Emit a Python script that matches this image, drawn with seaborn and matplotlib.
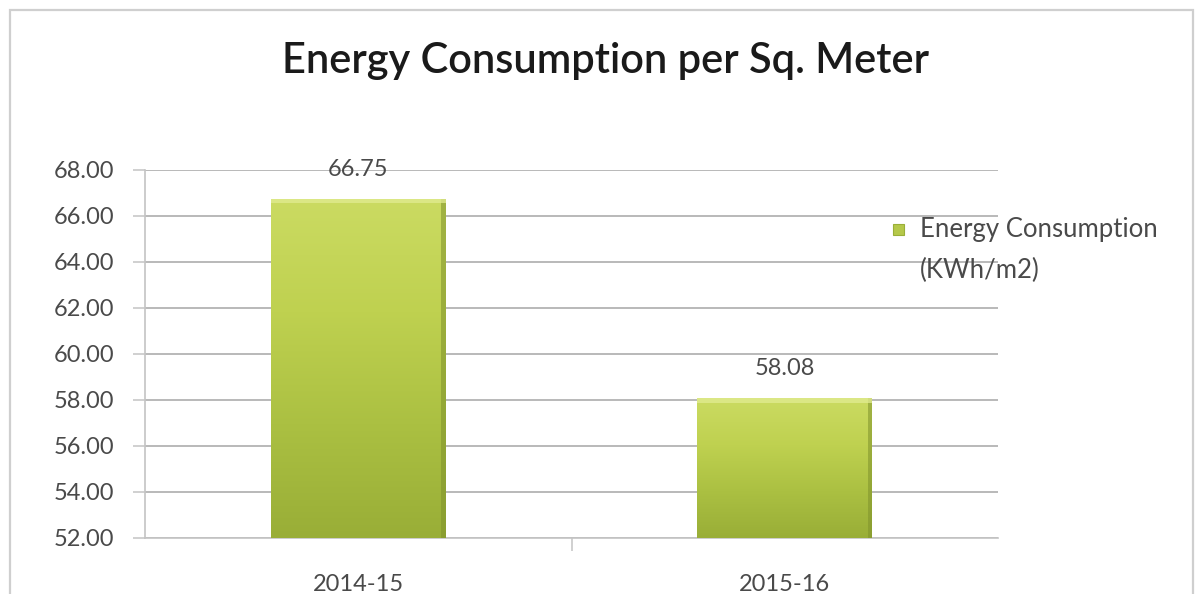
import numpy as np
import pandas as pd
import matplotlib
matplotlib.use("Agg")
import matplotlib.pyplot as plt
from matplotlib.colors import LinearSegmentedColormap
from matplotlib.patches import Rectangle
import seaborn as sns

# Chart data
years = ["2014-15", "2015-16"]
consumption = [66.75, 58.08]
legend_lines = ["Energy Consumption", "(KWh/m2)"]
y_ticks = [52, 54, 56, 58, 60, 62, 64, 66, 68]

df = pd.DataFrame({"Year": years, "Consumption": consumption})

sns.set_theme(style="white")
plt.rcParams["font.family"] = ["Lato", "DejaVu Sans"]

TEXT = "#4a4a4a"
W, H = 1198, 594
fig = plt.figure(figsize=(W / 100, H / 100), dpi=100)
fig.patch.set_facecolor("white")

# outer chart frame
fig.add_artist(Rectangle((10 / W, -0.05), (1193 - 10) / W, 1.05 - 10 / H,
                         transform=fig.transFigure, fill=False,
                         edgecolor="#cfcfcf", linewidth=1.6))

ax = fig.add_axes([145 / W, 1 - 538 / H, (998 - 145) / W, (538 - 170) / H])

sns.barplot(data=df, x="Year", y="Consumption", ax=ax, width=0.41,
            color="#b5c84a", linewidth=0, saturation=1, zorder=3)
ax.set_xlabel("")
ax.set_ylabel("")

# gradient fill for each bar
cmap = LinearSegmentedColormap.from_list(
    "olive", ["#99ae37", "#abc042", "#bfd150", "#cbdb62"])
grad = np.linspace(0, 1, 256).reshape(-1, 1)
y_base = 52
for patch in list(ax.patches):
    x0, w = patch.get_x(), patch.get_width()
    top = patch.get_y() + patch.get_height()
    im = ax.imshow(grad, extent=[x0, x0 + w, y_base, top], origin="lower",
                   cmap=cmap, aspect="auto", zorder=4)
    im.set_clip_path(patch)
    # bevel: darker right edge, lighter top edge
    ax.add_patch(Rectangle((x0 + w * 0.975, y_base), w * 0.025, top - y_base,
                           facecolor="#7f922c", alpha=0.55, linewidth=0, zorder=5))
    ax.add_patch(Rectangle((x0, top - 0.2), w, 0.2,
                           facecolor="#e2ec92", alpha=0.75, linewidth=0, zorder=5))
ax.set_xlim(-0.5, 1.5)
ax.set_ylim(52, 68)
ax.set_yticks(y_ticks)
ax.set_yticklabels([f"{v:.2f}" for v in y_ticks])

# value labels
for i, v in enumerate(consumption):
    ax.text(i, v + 0.82, f"{v:.2f}", ha="center", va="bottom",
            fontsize=17, color=TEXT, zorder=6)

# grid and axes styling
ax.yaxis.grid(True, color="#a6a6a6", linewidth=1.1, zorder=1)
ax.xaxis.grid(False)
for side in ["top", "right"]:
    ax.spines[side].set_visible(False)
for side in ["left", "bottom"]:
    ax.spines[side].set_color("#c4c4c4")
    ax.spines[side].set_linewidth(1.2)

ax.tick_params(axis="y", which="both", left=True, length=9, width=1.1,
               color="#c4c4c4", labelsize=17, labelcolor=TEXT, pad=13)
ax.set_xticks([0.5], minor=True)
ax.tick_params(axis="x", which="major", bottom=False, labelsize=17,
               labelcolor=TEXT, pad=20)
ax.tick_params(axis="x", which="minor", bottom=True, length=9, width=1.1,
               color="#c4c4c4")

# title
fig.text(605 / W, 1 - 61 / H, "Energy Consumption per Sq. Meter",
         ha="center", va="center", fontsize=30, fontweight="semibold",
         color="#1a1a1a")

# legend
fig.add_artist(Rectangle((893 / W, 1 - 235 / H), 11 / W, 11 / H,
                         transform=fig.transFigure, facecolor="#b5c84a",
                         edgecolor="#9aaf38", linewidth=0.8))
fig.text(920 / W, 1 - 229 / H, legend_lines[0], ha="left", va="center",
         fontsize=18.5, color=TEXT)
fig.text(920 / W, 1 - 270 / H, legend_lines[1], ha="left", va="center",
         fontsize=18.5, color=TEXT)

fig.savefig("out.png", dpi=100, facecolor="white")
